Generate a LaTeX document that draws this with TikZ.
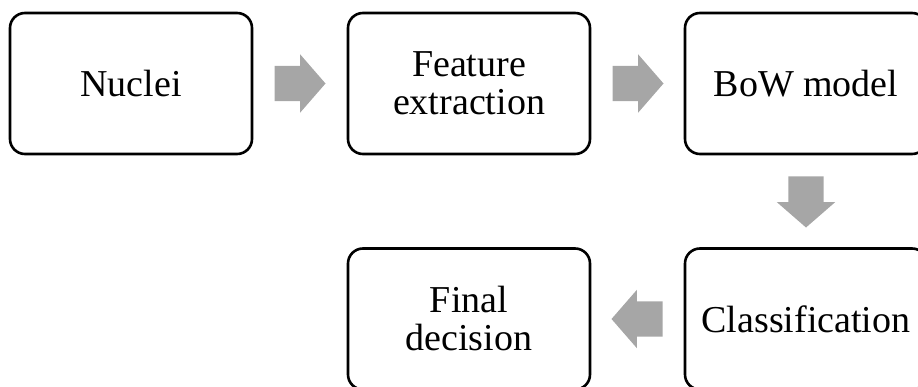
\documentclass[tikz,border=0pt]{standalone}
\usepackage{fontspec}
\setmainfont{Liberation Serif}
\usetikzlibrary{shapes.arrows,calc}
\definecolor{arrowgray}{RGB}{166,166,166}
\tikzset{
  x=1pt, y=1pt,
  stage/.style={draw=black, line width=2.6pt, rounded corners=15pt,
    minimum width=242pt, minimum height=141pt, inner sep=0pt, align=center,
    font=\fontsize{38}{38}\selectfont},
  blockarrow/.style={single arrow, fill=arrowgray, draw=none, inner sep=0pt,
    minimum height=51pt, single arrow head extend=11.5pt,
    single arrow tip angle=98, anchor=tail}
}
% shaft thickness of the block arrows
\newcommand{\shaft}{\rule{0pt}{35pt}}
\begin{document}
\begin{tikzpicture}
\useasboundingbox (0,0) rectangle (918,386);
\begin{scope}
\clip (0,0) rectangle (918,386);
% top row
\node[stage] (nuclei)  at (131,302.5) {Nuclei};
\node[stage] (feature) at (469,302.5) {Feature\\extraction};
\node[stage] (bow)     at (806,302.5) {BoW model};
% bottom row
\node[stage] (classif) at (806,67) {Classification};
\node[stage] (final)   at (469,67) {Final\\decision};
% block arrows between the stages, tails set 21pt off the source box
\node[blockarrow] (a1) at ($(nuclei.east)+(21,0)$) {\shaft};
\node[blockarrow] (a2) at ($(feature.east)+(21,0)$) {\shaft};
\node[blockarrow, rotate=-90] (a3) at ($(bow.south)+(0,-21)$) {\shaft};
\node[blockarrow, rotate=180] (a4) at ($(classif.west)+(-21,0)$) {\shaft};
\end{scope}
\end{tikzpicture}
\end{document}
